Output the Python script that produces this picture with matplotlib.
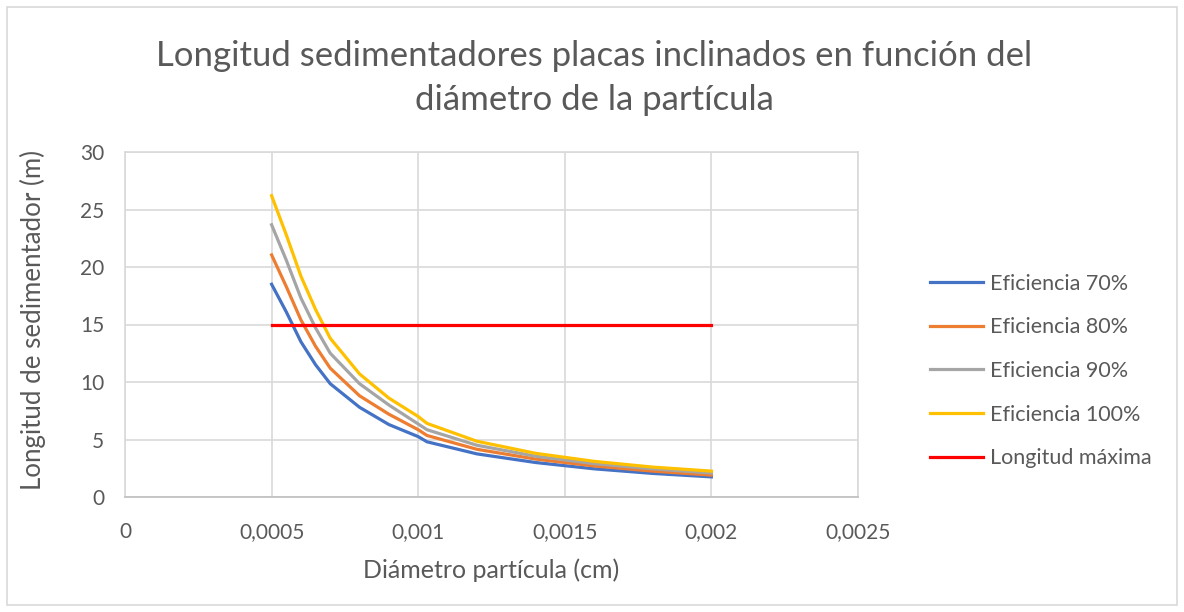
import matplotlib
matplotlib.use("Agg")
import matplotlib.pyplot as plt
from matplotlib.patches import Rectangle
from matplotlib.ticker import FuncFormatter, MultipleLocator

plt.rcParams["font.family"] = ["Lato", "DejaVu Sans"]

# particle diameter (cm)
diametro = [0.0005, 0.00055, 0.0006, 0.00065, 0.0007, 0.0008, 0.0009,
            0.001, 0.00103, 0.0012, 0.0014, 0.0016, 0.0018, 0.002]

# settler length (m) for each efficiency
ef_70 = [18.5, 16.1, 13.5, 11.5, 9.85, 7.8, 6.3, 5.25, 4.8, 3.75, 3.0, 2.45, 2.05, 1.75]
ef_80 = [21.05, 18.3, 15.4, 13.1, 11.2, 8.8, 7.2, 5.85, 5.35, 4.15, 3.3, 2.7, 2.25, 1.9]
ef_90 = [23.67, 20.6, 17.3, 14.7, 12.5, 9.85, 8.0, 6.35, 5.85, 4.5, 3.55, 2.9, 2.45, 2.08]
ef_100 = [26.2, 22.8, 19.2, 16.3, 13.8, 10.7, 8.6, 7.0, 6.4, 4.85, 3.8, 3.1, 2.6, 2.25]

longitud_max_x = [0.0005, 0.002]
longitud_max = [15, 15]

texto = "#595959"
rejilla = "#d9d9d9"

fig = plt.figure(figsize=(11.84, 6.12), dpi=100)
ax = fig.add_axes([125 / 1184, 115 / 612, 733 / 1184, 345 / 612])

lw = 2.3
ax.plot(diametro, ef_70, color="#4472C4", lw=lw, label="Eficiencia 70%")
ax.plot(diametro, ef_80, color="#ED7D31", lw=lw, label="Eficiencia 80%")
ax.plot(diametro, ef_90, color="#A5A5A5", lw=lw, label="Eficiencia 90%")
ax.plot(diametro, ef_100, color="#FFC000", lw=lw, label="Eficiencia 100%")
ax.plot(longitud_max_x, longitud_max, color="#FF0000", lw=lw, label="Longitud máxima")

ax.set_xlim(0, 0.0025)
ax.set_ylim(0, 30)
ax.xaxis.set_major_locator(MultipleLocator(0.0005))
ax.yaxis.set_major_locator(MultipleLocator(5))
ax.xaxis.set_major_formatter(FuncFormatter(lambda v, p: f"{v:g}".replace(".", ",")))
ax.yaxis.set_major_formatter(FuncFormatter(lambda v, p: f"{v:g}"))
ax.grid(True, color=rejilla, lw=1.2)
ax.set_axisbelow(True)
for s in ax.spines.values():
    s.set_color(rejilla)
    s.set_linewidth(1.2)
ax.spines["bottom"].set_color("#bfbfbf")
ax.tick_params(length=0, labelsize=15, colors=texto)
ax.tick_params(axis="x", pad=18)
ax.tick_params(axis="y", pad=15)

ax.set_xlabel("Diámetro partícula (cm)", fontsize=18, color=texto, va="center")
ax.xaxis.set_label_coords(0.5, -0.212)
ax.set_ylabel("Longitud de sedimentador (m)", fontsize=18.6, color=texto, va="center", ha="center")
ax.yaxis.set_label_coords(-0.1255, 0.513)

fig.text(0.502, 1 - 78 / 612, "Longitud sedimentadores placas inclinados en función del\ndiámetro de la partícula",
         ha="center", va="center", fontsize=25, color=texto, linespacing=1.45)

ax.legend(loc="center left", bbox_to_anchor=(911 / 1184, 1 - 371 / 612), bbox_transform=fig.transFigure,
          frameon=False, fontsize=15.5, labelcolor=texto, handlelength=2.45,
          handletextpad=0.3, labelspacing=1.1)

fig.patches.append(Rectangle((7 / 1184, 7 / 612), 1170 / 1184, 598 / 612, transform=fig.transFigure,
                             fill=False, edgecolor=rejilla, lw=1.2))

fig.savefig("out.png", dpi=100)
